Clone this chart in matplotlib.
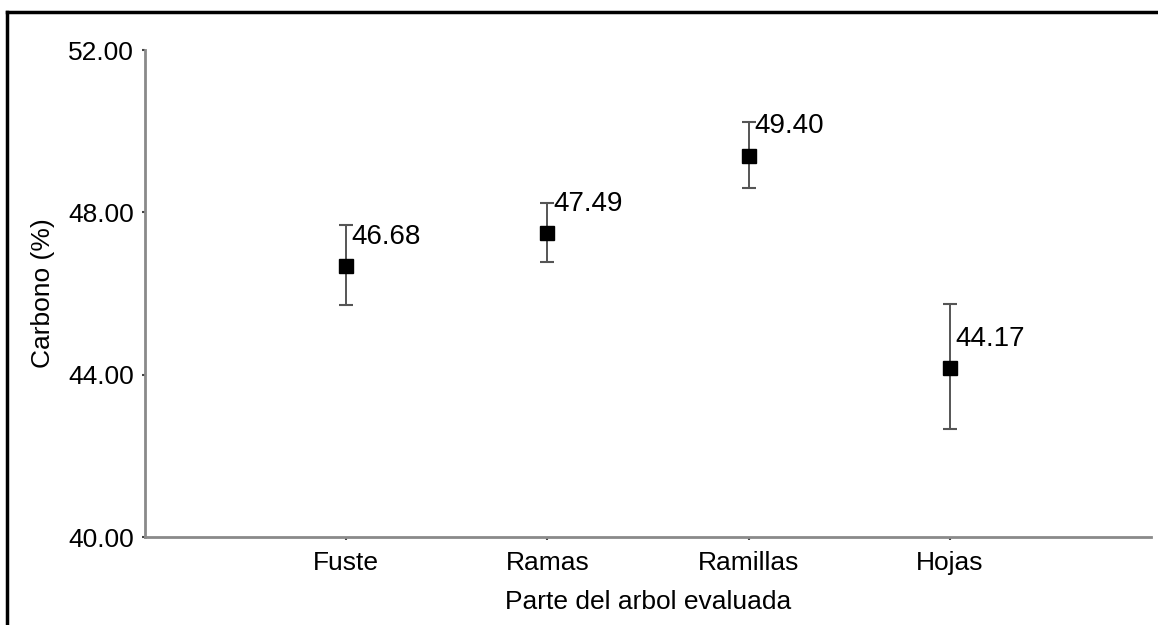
import matplotlib
matplotlib.use("Agg")
from matplotlib import pyplot as plt
from matplotlib.lines import Line2D

partes = ['Fuste', 'Ramas', 'Ramillas', 'Hojas']
carbono = [46.68, 47.49, 49.40, 44.17]
err_sup = [1.00, 0.73, 0.83, 1.58]
err_inf = [0.96, 0.72, 0.80, 1.52]
yticks = [40.00, 44.00, 48.00, 52.00]

plt.rcParams['font.family'] = ['Liberation Sans', 'DejaVu Sans']

fig = plt.figure(figsize=(11.58, 6.25), dpi=100)
ax = fig.add_axes([0.1252, 0.1408, 0.8688, 0.7792])

x = list(range(1, len(partes) + 1))
ax.errorbar(x, carbono, yerr=[err_inf, err_sup], fmt='none', ecolor='#555555',
            elinewidth=1.4, capsize=5, capthick=1.5, zorder=2)
ax.plot(x, carbono, 's', color='black', markersize=10, zorder=3)

for xi, v in zip(x, carbono):
    ax.annotate(f'{v:.2f}', (xi, v), xytext=(4, 21), textcoords='offset points',
                fontsize=20, ha='left', va='center', color='black')

ax.set_xlim(0, 5)
ax.set_ylim(40, 52)
ax.set_xticks(x)
ax.set_xticklabels(partes, fontsize=19)
ax.set_yticks(yticks)
ax.set_yticklabels([f'{t:.2f}' for t in yticks], fontsize=19)
ax.tick_params(axis='both', length=2, width=1.5, color='#444444')
ax.tick_params(axis='y', pad=6)
ax.tick_params(axis='x', pad=8)

for s in ['top', 'right']:
    ax.spines[s].set_visible(False)
for s in ['left', 'bottom']:
    ax.spines[s].set_color('#8a8a8a')
    ax.spines[s].set_linewidth(2)

ax.set_ylabel('Carbono (%)', fontsize=19, labelpad=9)
ax.set_xlabel('Parte del arbol evaluada', fontsize=19, labelpad=11)

# marco exterior: linea superior e izquierda
fig.add_artist(Line2D([7 / 1158, 7 / 1158], [0, 1 - 12 / 625], color='black', lw=2.5,
                      transform=fig.transFigure))
fig.add_artist(Line2D([7 / 1158, 1], [1 - 12 / 625, 1 - 12 / 625], color='black', lw=2.5,
                      transform=fig.transFigure))

fig.savefig('out.png', dpi=100)
